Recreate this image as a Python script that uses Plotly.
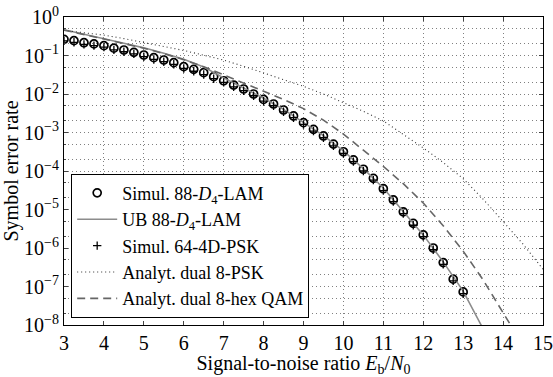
import plotly.graph_objects as go

# Eb/N0 grid (dB) and measured / analytical symbol error rates
snr_sim = [3.0, 3.25, 3.5, 3.75, 4.0, 4.25, 4.5, 4.75, 5.0, 5.25, 5.5, 5.75, 6.0, 6.25,
           6.5, 6.75, 7.0, 7.25, 7.5, 7.75, 8.0, 8.25, 8.5, 8.75, 9.0, 9.25, 9.5, 9.75,
           10.0, 10.25, 10.5, 10.75, 11.0, 11.25, 11.5, 11.75, 12.0, 12.25, 12.5, 12.75, 13.0]

ser_lam_sim = [0.263, 0.243, 0.215, 0.200, 0.180, 0.155, 0.139, 0.121, 0.103, 0.0877,
               0.0764, 0.0652, 0.0513, 0.0437, 0.0358, 0.0282, 0.0221, 0.0171, 0.0135, 0.0100,
               7.24e-3, 5.50e-3, 3.84e-3, 2.69e-3, 1.80e-3, 1.21e-3, 8.13e-4, 5.01e-4,
               3.16e-4, 1.95e-4, 1.11e-4, 6.46e-5, 3.47e-5, 1.78e-5, 8.71e-6, 4.37e-6,
               2.19e-6, 1.0e-6, 4.17e-7, 1.55e-7, 7.24e-8]

ser_psk4d_sim = [0.24, 0.22, 0.195, 0.18, 0.165, 0.14, 0.125, 0.11, 0.093, 0.079,
                 0.069, 0.059, 0.046, 0.039, 0.032, 0.025, 0.020, 0.0154, 0.0122, 0.0090,
                 6.5e-3, 4.95e-3, 3.45e-3, 2.42e-3, 1.62e-3, 1.09e-3, 7.3e-4, 4.5e-4,
                 2.85e-4, 1.75e-4, 1.0e-4, 5.8e-5, 3.1e-5, 1.6e-5, 7.8e-6, 3.9e-6,
                 1.97e-6, 9.0e-7, 3.75e-7, 1.4e-7, 6.5e-8]

snr_ub = [3.0, 3.5, 4.0, 4.5, 5.0, 5.5, 6.0, 6.5, 7.0, 7.5, 8.0, 8.5, 9.0, 9.5, 10.0,
          10.5, 11.0, 11.5, 12.0, 12.5, 13.0, 13.5]
ser_lam_ub = [0.468, 0.363, 0.275, 0.209, 0.158, 0.115, 0.0794, 0.0501, 0.0263, 0.0145,
              7.76e-3, 3.98e-3, 1.86e-3, 8.32e-4, 3.31e-4, 1.15e-4, 3.63e-5, 9.12e-6,
              2.19e-6, 4.37e-7, 7.59e-8, 7.94e-9]

snr_8psk = [3.0, 3.5, 4.0, 4.5, 5.0, 5.5, 6.0, 6.5, 7.0, 7.5, 8.0, 8.5, 9.0, 9.5, 10.0,
            10.5, 11.0, 11.5, 12.0, 12.5, 13.0, 13.5, 14.0, 14.5, 15.0]
ser_8psk = [0.447, 0.389, 0.339, 0.275, 0.219, 0.174, 0.135, 0.102, 0.0759, 0.0525,
            0.0355, 0.0240, 0.0158, 0.0100, 6.03e-3, 3.55e-3, 2.0e-3, 9.1e-4, 3.98e-4,
            1.66e-4, 6.31e-5, 1.86e-5, 5.0e-6, 1.26e-6, 2.82e-7]

snr_hex = [3.0, 3.5, 4.0, 4.5, 5.0, 5.5, 6.0, 6.5, 7.0, 7.5, 8.0, 8.5, 9.0, 9.5, 10.0,
           10.5, 11.0, 11.5, 12.0, 12.5, 13.0, 13.5, 14.0, 14.2]
ser_hex = [0.457, 0.355, 0.269, 0.204, 0.155, 0.112, 0.0776, 0.0513, 0.0316, 0.0195,
           0.0120, 7.24e-3, 4.17e-3, 2.09e-3, 9.12e-4, 3.55e-4, 1.32e-4, 4.68e-5,
           1.48e-5, 3.8e-6, 8.3e-7, 1.48e-7, 2.19e-8, 9.5e-9]

y_tickvals = [1, 1e-1, 1e-2, 1e-3, 1e-4, 1e-5, 1e-6, 1e-7, 1e-8]
y_ticktext = ['10<sup>0</sup>', '10<sup>\u22121</sup>', '10<sup>\u22122</sup>',
              '10<sup>\u22123</sup>', '10<sup>\u22124</sup>', '10<sup>\u22125</sup>',
              '10<sup>\u22126</sup>', '10<sup>\u22127</sup>', '10<sup>\u22128</sup>']
x_tickvals = list(range(3, 16))

FONT = 'Liberation Serif'
FS = 20
grid = dict(showgrid=True, gridcolor='#808080', gridwidth=1, griddash='1px,3px')

fig = go.Figure()
fig.add_trace(go.Scatter(x=snr_sim, y=ser_lam_sim, mode='markers',
                         name='Simul. 88-<i>D</i><sub>4</sub>-LAM',
                         marker=dict(symbol='circle-open', size=8, color='black',
                                     line=dict(width=1.7, color='black'))))
fig.add_trace(go.Scatter(x=snr_ub, y=ser_lam_ub, mode='lines',
                         name='UB 88-<i>D</i><sub>4</sub>-LAM',
                         line=dict(color='#8c8c8c', width=1.6)))
fig.add_trace(go.Scatter(x=snr_sim, y=ser_psk4d_sim, mode='markers',
                         name='Simul. 64-4D-PSK',
                         marker=dict(symbol='cross-thin', size=6, color='black',
                                     line=dict(width=1.3, color='black'))))
fig.add_trace(go.Scatter(x=snr_8psk, y=ser_8psk, mode='lines',
                         name='Analyt. dual 8-PSK',
                         line=dict(color='#333333', width=1.1, dash='1px,3px')))
fig.add_trace(go.Scatter(x=snr_hex, y=ser_hex, mode='lines',
                         name='Analyt. dual 8-hex QAM',
                         line=dict(color='#666666', width=1.6, dash='8px,5px')))

fig.update_layout(
    width=553, height=377,
    margin=dict(l=64, r=10, t=17, b=52),
    plot_bgcolor='white', paper_bgcolor='white',
    font=dict(family=FONT, size=FS, color='black'),
    showlegend=True,
    legend=dict(x=0.015, y=0.024, xanchor='left', yanchor='bottom',
                bgcolor='white', bordercolor='black', borderwidth=1,
                font=dict(family=FONT, size=18), itemwidth=40),
    xaxis=dict(range=[3, 15], tickvals=x_tickvals, ticks='inside', ticklen=4,
               showline=True, linecolor='black', linewidth=1, mirror='ticks',
               zeroline=False, tickfont=dict(size=FS), automargin=False,
               title=dict(text='Signal-to-noise ratio <i>E</i><sub>b</sub>/<i>N</i><sub>0</sub>',
                          standoff=2, font=dict(size=FS)),
               **grid),
    yaxis=dict(type='log', range=[-8, 0], tickvals=y_tickvals, ticktext=y_ticktext,
               ticks='inside', ticklen=4, showline=True, linecolor='black', linewidth=1,
               mirror='ticks', zeroline=False, tickfont=dict(size=FS), automargin=False,
               title=dict(text='Symbol error rate', standoff=2, font=dict(size=FS)),
               minor=dict(ticks='inside', ticklen=2, showgrid=True, gridcolor='#808080',
                          gridwidth=1, griddash='1px,3px'),
               **grid),
)

fig.write_html("out.html", config={'displayModeBar': False},
               post_script="document.body.style.margin='0';")
